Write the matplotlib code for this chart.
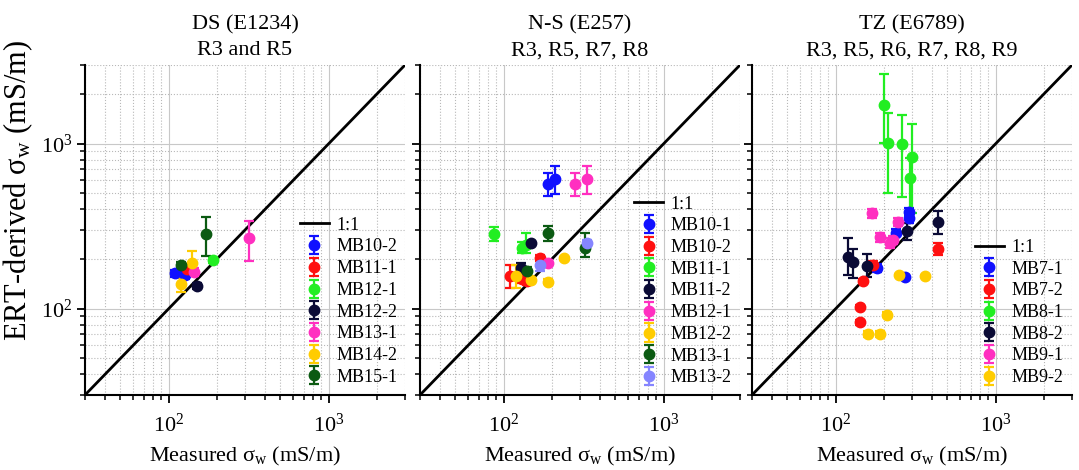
import numpy as np
import matplotlib
matplotlib.use('Agg')
import matplotlib.pyplot as plt
from matplotlib.ticker import LogLocator, NullFormatter

plt.rcParams['font.family'] = ['Liberation Serif', 'DejaVu Serif']
plt.rcParams['mathtext.fontset'] = 'custom'
plt.rcParams['mathtext.rm'] = 'Liberation Serif'
plt.rcParams['mathtext.it'] = 'Liberation Serif:italic'

# axis range and 1:1 line
lims = [30, 3000]

colors = {
    'blue': '#1010ff', 'red': '#ff1010', 'green': '#22ee22', 'navy': '#0a0a35',
    'magenta': '#ff2fc0', 'yellow': '#ffcc00', 'dkgreen': '#0b5a12', 'lav': '#8585ff',
}

# ---- DS (E1234) ----
ds_names = ['MB10-2', 'MB11-1', 'MB12-1', 'MB12-2', 'MB13-1', 'MB14-2', 'MB15-1']
ds_cols = ['blue', 'red', 'green', 'navy', 'magenta', 'yellow', 'dkgreen']
ds_x = [[110, 127], [130], [188], [150], [319, 143], [139, 119], [170, 119]]
ds_y = [[164, 160], [174], [197], [137], [267, 167], [188, 141], [282, 184]]
ds_lo = [[8, 8], [12], [8], [6], [72, 10], [30, 14], [74, 8]]
ds_hi = [[8, 8], [12], [8], [6], [73, 10], [36, 12], [76, 8]]

# ---- N-S (E257) ----
ns_names = ['MB10-1', 'MB10-2', 'MB11-1', 'MB11-2', 'MB12-1', 'MB12-2', 'MB13-1', 'MB13-2']
ns_cols = ['blue', 'red', 'green', 'navy', 'magenta', 'yellow', 'dkgreen', 'lav']
ns_x = [[190, 210], [169, 109, 131, 139], [87.5, 131, 137], [149, 129],
        [281, 330, 190], [120, 149, 190, 239], [190, 322, 139], [330, 169]]
ns_y = [[570, 608], [204, 158, 151, 148], [284, 232, 245], [251, 177],
        [570, 611, 190], [158, 149, 146, 202], [286, 232, 170], [251, 184]]
ns_lo = [[88, 112], [8, 25, 8, 8], [27, 15, 28], [8, 10],
         [88, 115, 8], [25, 5, 5, 5], [29, 25, 8], [10, 15]]
ns_hi = [[91, 125], [8, 26, 8, 8], [30, 20, 43], [8, 13],
         [91, 122, 8], [26, 5, 5, 5], [31, 54, 8], [10, 15]]

# ---- TZ (E6789) ----
tz_names = ['MB7-1', 'MB7-2', 'MB8-1', 'MB8-2', 'MB9-1', 'MB9-2']
tz_cols = ['blue', 'red', 'green', 'navy', 'magenta', 'yellow']
tz_x = [[289, 286, 238, 180, 271], [438, 170, 149, 141, 141], [201, 211, 261, 301, 291],
        [434, 281, 120, 129, 158], [169, 246, 189, 218, 229], [250, 361, 210, 160, 189]]
tz_y = [[387, 353, 289, 177, 155], [229, 184, 148, 102, 83], [1718, 1013, 991, 834, 617],
        [334, 297, 205, 193, 181], [378, 336, 271, 251, 261], [160, 158, 92, 70, 70]]
tz_lo = [[20, 20, 15, 10, 4], [18, 12, 4, 3, 3], [713, 508, 518, 456, 230],
         [50, 35, 45, 40, 25], [25, 20, 18, 18, 15], [3, 3, 3, 3, 3]]
tz_hi = [[22, 20, 15, 10, 4], [20, 12, 4, 3, 3], [922, 513, 501, 479, 200],
         [57, 35, 62, 36, 33], [25, 20, 18, 18, 15], [3, 3, 3, 3, 3]]

panels = [
    ('DS (E1234)\nR3 and R5', ds_names, ds_cols, ds_x, ds_y, ds_lo, ds_hi, 0.085 / 1.079, (0.672, 0.540)),
    ('N-S (E257)\nR3, R5, R7, R8', ns_names, ns_cols, ns_x, ns_y, ns_lo, ns_hi, 0.420 / 1.079, (0.670, 0.604)),
    ('TZ (E6789)\nR3, R5, R6, R7, R8, R9', tz_names, tz_cols, tz_x, tz_y, tz_lo, tz_hi, 0.752 / 1.079, (0.697, 0.473)),
]

fig = plt.figure(figsize=(10.79, 4.70), dpi=100)

for i, (title, names, cols, xs, ys, los, his, left, anchor) in enumerate(panels):
    ax = fig.add_axes([left, 1 - 395 / 470, 320 / 1079, 330 / 470])
    ax.set_xscale('log')
    ax.set_yscale('log')
    ax.set_xlim(lims)
    ax.set_ylim(lims)

    ax.grid(which='major', color='#c8c8c8', ls='-', lw=0.8)
    ax.grid(which='minor', color='#b8b8b8', ls=':', lw=0.8)
    ax.set_axisbelow(True)

    ax.plot(lims, lims, color='k', lw=2, label='1:1', zorder=3)
    for name, c, x, y, lo, hi in zip(names, cols, xs, ys, los, his):
        ax.errorbar(x, y, yerr=[lo, hi], fmt='o', color=colors[c], ms=7.5,
                    elinewidth=1.6, capsize=3.5, capthick=1.6, label=name, zorder=4)

    for s in ['top', 'right']:
        ax.spines[s].set_visible(False)
    for s in ['left', 'bottom']:
        ax.spines[s].set_linewidth(1.5)

    for axis in (ax.xaxis, ax.yaxis):
        axis.set_major_locator(LogLocator(base=10))
        axis.set_minor_locator(LogLocator(base=10, subs=np.arange(2, 10)))
        axis.set_minor_formatter(NullFormatter())
    ax.tick_params(which='major', direction='out', length=5.5, width=1.3, labelsize=16)
    ax.tick_params(which='minor', direction='out', length=3.5, width=1.1)
    ax.tick_params(axis='x', pad=8)
    ax.tick_params(axis='y', pad=3.5)
    if i > 0:
        ax.tick_params(axis='y', labelleft=False)
    else:
        ax.set_ylabel('ERT-derived σ$_\\mathregular{w}$ (mS/m)', fontsize=22)
        ax.yaxis.set_label_coords(-0.155, 0.62)

    ax.set_xlabel('Measured σ$_\\mathregular{w}$ (mS/m)', fontsize=16, labelpad=6)
    ax.set_title(title, fontsize=16, linespacing=1.5, pad=7)

    ax.legend(loc='upper left', bbox_to_anchor=anchor, frameon=False, fontsize=13,
              borderpad=0, borderaxespad=0, handlelength=1.6, handletextpad=0.4,
              labelspacing=0.26)

plt.savefig('out.png', dpi=100)
